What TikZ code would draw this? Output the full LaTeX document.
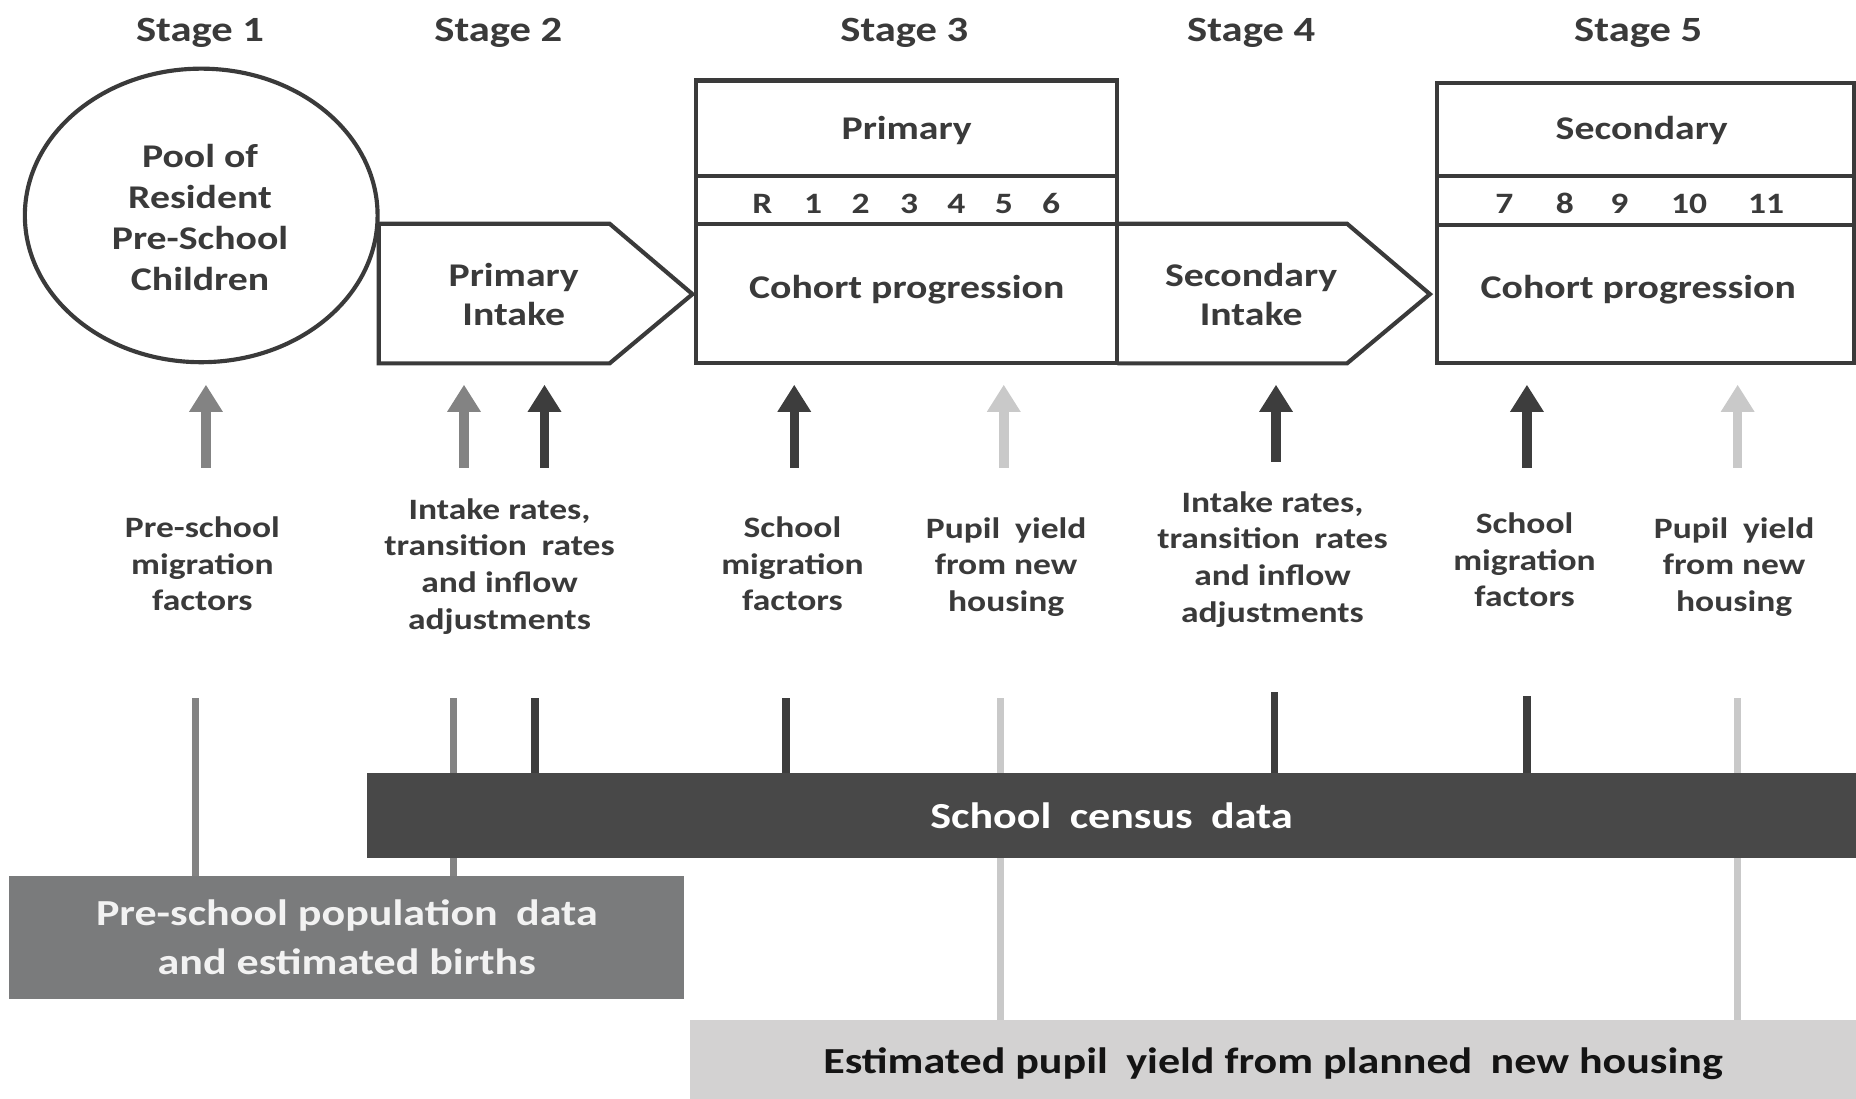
\documentclass[tikz,border=0pt]{standalone}
\usepackage{fontspec}
\setmainfont{Carlito}[FakeStretch=1.2]
\usetikzlibrary{arrows.meta}
\definecolor{ink}{HTML}{3A3A3A}
\definecolor{midg}{HTML}{838383}
\definecolor{darkg}{HTML}{3D3D3D}
\definecolor{lightg}{HTML}{C9C9C9}
\definecolor{censusfill}{HTML}{484848}
\definecolor{prefill}{HTML}{7A7B7C}
\definecolor{yieldfill}{HTML}{D3D2D2}
\begin{document}
\begin{tikzpicture}[x=1pt,y=-1pt,
  every node/.style={text=ink, inner sep=0pt},
  stagelbl/.style={font=\bfseries\fontsize{30}{36}\selectfont, anchor=base},
  boxtxt/.style={font=\bfseries\fontsize{28}{33}\selectfont, align=center},
  numtxt/.style={font=\bfseries\fontsize{25}{30}\selectfont, anchor=base},
  lbl/.style={font=\bfseries\fontsize{25}{31}\selectfont, align=center},
  bartxt/.style={font=\bfseries\fontsize{31}{41.6}\selectfont, align=center},
  shapeline/.style={draw=ink, line width=3.5pt, line join=miter},
  up/.style={line width=8pt, -{Triangle[width=27pt,length=23pt]}},
  stem/.style={line width=6pt},
]
\useasboundingbox (0,0) rectangle (1568,928);

% stage headings
\node[stagelbl] (st1) at (169,35) {Stage 1};
\node[stagelbl] (st2) at (421,35) {Stage 2};
\node[stagelbl] (st3) at (764,35) {Stage 3};
\node[stagelbl] (st4) at (1057,35) {Stage 4};
\node[stagelbl] (st5) at (1384,35) {Stage 5};

% stage 1 circle
\draw[shapeline] (170,182) ellipse [x radius=149, y radius=124];
\node[boxtxt, font=\bfseries\fontsize{28}{34.7}\selectfont] (pool) at (169,183.5) {Pool of\\Resident\\Pre-School\\Children};

% stage 2 pentagon
\draw[shapeline] (320,189) -- (515,189) -- (585,248.5) -- (515,307) -- (320,307) -- cycle;
\node[boxtxt] (pint) at (434,248.5) {Primary\\Intake};

% stage 3 primary box
\draw[shapeline] (588,68) rectangle (944,307);
\draw[shapeline] (588,148.5) -- (944,148.5);
\draw[shapeline] (588,189) -- (944,189);
\node[boxtxt, anchor=base] (prim) at (766,118) {Primary};
\node[numtxt] (pR) at (644,180) {R};
\node[numtxt] (p1) at (687,180) {1};
\node[numtxt] (p2) at (727,180) {2};
\node[numtxt] (p3) at (768,180) {3};
\node[numtxt] (p4) at (808,180) {4};
\node[numtxt] (p5) at (848,180) {5};
\node[numtxt] (p6) at (888,180) {6};
\node[boxtxt, anchor=base] (pcoh) at (766,252) {Cohort progression};

% stage 4 pentagon
\draw[shapeline] (944,189) -- (1138,189) -- (1208,248.5) -- (1138,307) -- (944,307);
\node[boxtxt] (sint) at (1057,248.5) {Secondary\\Intake};

% stage 5 secondary box
\draw[shapeline] (1214,70) rectangle (1566,307);
\draw[shapeline] (1214,149) -- (1566,149);
\draw[shapeline] (1214,190) -- (1566,190);
\node[boxtxt, anchor=base] (sec) at (1387,118) {Secondary};
\node[numtxt] (s7) at (1271,180) {7};
\node[numtxt] (s8) at (1322,180) {8};
\node[numtxt] (s9) at (1368,180) {9};
\node[numtxt] (s10) at (1427,180) {10};
\node[numtxt] (s11) at (1492,180) {11};
\node[boxtxt, anchor=base] (scoh) at (1384,252) {Cohort progression};

% labels
\node[lbl] (l1) at (171,476.5) {Pre-school\\migration\\factors};
\node[lbl] (l2) at (422,478.5) {Intake rates,\\transition\enspace rates\\and inflow\\adjustments};
\node[lbl] (l3) at (669.5,476.5) {School\\migration\\factors};
\node[lbl] (l4) at (850,479) {Pupil\enspace yield\\from new\\housing};
\node[lbl] (l5) at (1075,472.5) {Intake rates,\\transition\enspace rates\\and inflow\\adjustments};
\node[lbl] (l6) at (1288,473) {School\\migration\\factors};
\node[lbl] (l7) at (1465,479) {Pupil\enspace yield\\from new\\housing};

% arrows
\coordinate (a1b) at (174,395);  \coordinate (a1t) at (174,325);
\coordinate (a2b) at (392,395);  \coordinate (a2t) at (392,325);
\coordinate (a3b) at (460,395);  \coordinate (a3t) at (460,325);
\coordinate (a4b) at (671,395);  \coordinate (a4t) at (671,325);
\coordinate (a5b) at (848,395);  \coordinate (a5t) at (848,325);
\coordinate (a6b) at (1078,390); \coordinate (a6t) at (1078,325);
\coordinate (a7b) at (1290,395); \coordinate (a7t) at (1290,325);
\coordinate (a8b) at (1468,395); \coordinate (a8t) at (1468,325);
\draw[up, draw=midg] (a1b) -- (a1t);
\draw[up, draw=midg] (a2b) -- (a2t);
\draw[up, draw=darkg] (a3b) -- (a3t);
\draw[up, draw=darkg] (a4b) -- (a4t);
\draw[up, draw=lightg] (a5b) -- (a5t);
\draw[up, draw=darkg] (a6b) -- (a6t);
\draw[up, draw=darkg] (a7b) -- (a7t);
\draw[up, draw=lightg] (a8b) -- (a8t);

% data bars
\node[bartxt, fill=censusfill, text=white, minimum width=1258pt, minimum height=72pt] (census) at (939,689) {School\enspace census\enspace data};
\node[bartxt, fill=prefill, text=white!95!black, minimum width=570pt, minimum height=104pt] (pre) at (293,792) {Pre-school population\enspace data\\and estimated births};
\node[bartxt, fill=yieldfill, text=black!92, minimum width=985pt, minimum height=74pt] (yield) at (1075.5,899) {Estimated pupil\enspace yield from planned\enspace new housing};

% stems
\coordinate (s1) at (165,590);
\coordinate (s2) at (383,590);
\coordinate (s3) at (452,590);
\coordinate (s4) at (664,590);
\coordinate (s5) at (845,590);
\coordinate (s6) at (1077,585);
\coordinate (s7) at (1290,588);
\coordinate (s8) at (1468,590);
\draw[stem, midg] (s1) -- (s1 |- pre.north);
\draw[stem, midg] (s2) -- (s2 |- census.north) (s2 |- census.south) -- (s2 |- pre.north);
\draw[stem, darkg] (s3) -- (s3 |- census.north);
\draw[stem, darkg] (s4) -- (s4 |- census.north);
\draw[stem, lightg] (s5) -- (s5 |- census.north) (s5 |- census.south) -- (s5 |- yield.north);
\draw[stem, darkg] (s6) -- (s6 |- census.north);
\draw[stem, darkg] (s7) -- (s7 |- census.north);
\draw[stem, lightg] (s8) -- (s8 |- census.north) (s8 |- census.south) -- (s8 |- yield.north);
\end{tikzpicture}
\end{document}
